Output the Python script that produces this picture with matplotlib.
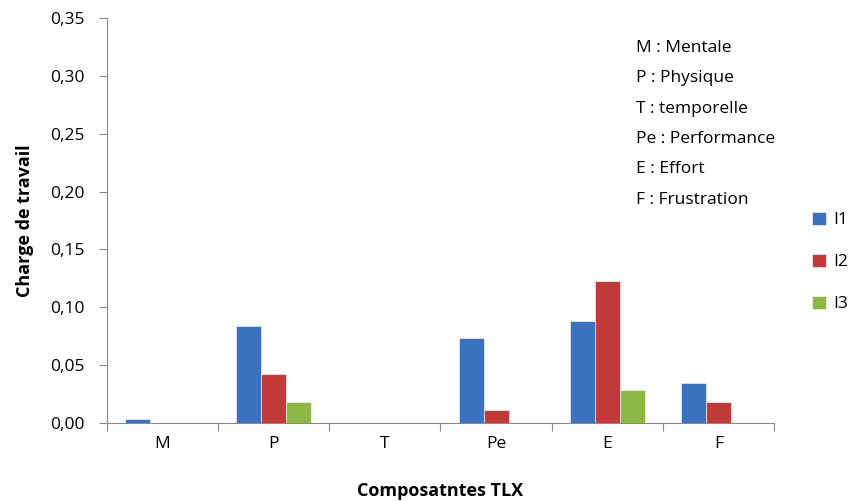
import numpy as np
import matplotlib.pyplot as plt

categories = ["M", "P", "T", "Pe", "E", "F"]
i1 = [0.0035, 0.084, 0.0, 0.0737, 0.0884, 0.035]
i2 = [0.0, 0.042, 0.0, 0.011, 0.1227, 0.018]
i3 = [0.0, 0.018, 0.0, 0.0, 0.0285, 0.0]
series_names = ["I1", "I2", "I3"]
colors = ["#3A72C0", "#C23A3A", "#8DB843"]
yticks = [0.0, 0.05, 0.10, 0.15, 0.20, 0.25, 0.30, 0.35]
legend_text = ["M : Mentale", "P : Physique", "T : temporelle",
               "Pe : Performance", "E : Effort", "F : Frustration"]

plt.rcParams['font.family'] = ['Open Sans', 'DejaVu Sans']

fig = plt.figure(figsize=(8.56, 5.01), dpi=100)
ax = fig.add_axes([107 / 856, 78 / 501, 667 / 856, 405 / 501])

x = np.arange(len(categories))
w = 0.225
for k, (vals, col, name) in enumerate(zip([i1, i2, i3], colors, series_names)):
    ax.bar(x + (k - 1) * w, vals, width=w, color=col, label=name,
           edgecolor="white", linewidth=0.4)

ax.set_xlim(-0.5, len(categories) - 0.5)
ax.set_ylim(0, 0.35)
ax.set_yticks(yticks)
ax.set_yticklabels([f"{v:.2f}".replace(".", ",") for v in yticks], fontsize=12.5)

ax.set_xticks(np.arange(len(categories) + 1) - 0.5)
ax.set_xticklabels([])
ax.set_xticks(x, minor=True)
ax.set_xticklabels(categories, minor=True, fontsize=12.5)
ax.tick_params(axis="x", which="major", length=6, color="#888888", direction="out")
ax.tick_params(axis="x", which="minor", length=0, pad=9)
ax.tick_params(axis="y", length=6, color="#888888", pad=10)

for s in ["top", "right"]:
    ax.spines[s].set_visible(False)
for s in ["left", "bottom"]:
    ax.spines[s].set_color("#888888")

ax.set_ylabel("Charge de travail", fontsize=13, fontweight="bold", labelpad=12)
ax.set_xlabel("Composatntes TLX", fontsize=13, fontweight="bold", labelpad=22)

for n, line in enumerate(legend_text):
    fig.text(636 / 856, 1 - (48 + n * 30.3) / 501, line, fontsize=12.5,
             va="center", ha="left")

fig.legend(loc="center left", bbox_to_anchor=(812 / 856, 1 - 262 / 501),
           frameon=False, fontsize=12.5, handlelength=0.8, handleheight=0.8,
           handletextpad=0.4, labelspacing=1.45, borderpad=0, borderaxespad=0)

fig.savefig("out.png", dpi=100)
